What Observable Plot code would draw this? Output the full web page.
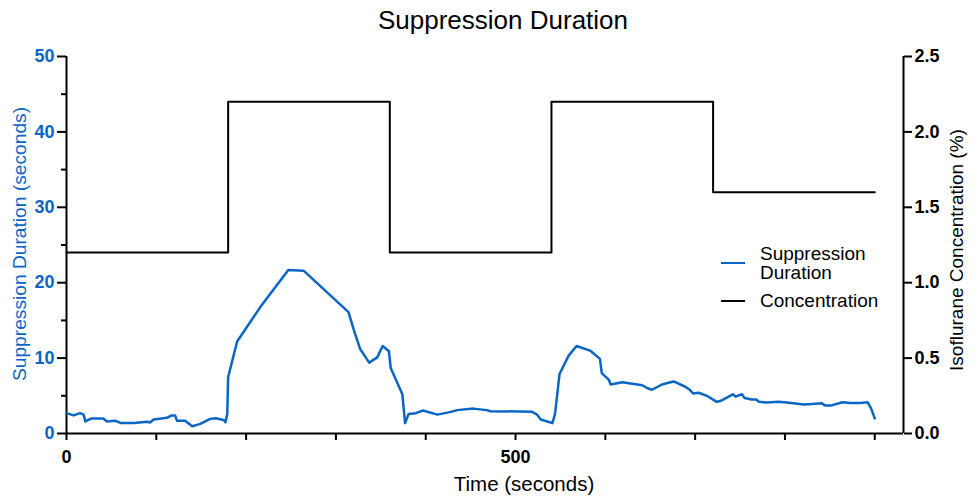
<!DOCTYPE html>
<html>
<head>
<meta charset="utf-8">
<script src="https://cdn.jsdelivr.net/npm/d3@7"></script>
<script src="https://cdn.jsdelivr.net/npm/@observablehq/plot@0.6"></script>
<style>
  html, body { margin: 0; padding: 0; background: #fff; }
  #wrap { position: relative; width: 979px; height: 498px; font-family: "Liberation Sans", Arial, Helvetica, sans-serif; }
  .ov { position: absolute; white-space: nowrap; color: #000; }
</style>
</head>
<body>
<div id="wrap"></div>
<script>
// ---- data ----
const title = "Suppression Duration";
const xLabel = "Time (seconds)";
const yLeftLabel = "Suppression Duration (seconds)";
const yRightLabel = "Isoflurane Concentration (%)";
const seriesNames = ["Suppression\nDuration", "Concentration"];

const time = [0,8,15,19,21,28,41,45,54,60,75,90,93,97,112,117,121,123,132,140,149,160,166,175,177,179,180,190,216,247,264,314,320,327,337,346,352,359,361,374,377,381,389,397,413,428,435,453,468,472,518,524,528,541,544,549,559,568,583,594,596,604,606,619,641,647,652,663,676,689,694,698,704,713,724,728,742,745,752,755,763,768,771,780,793,802,821,830,841,845,851,864,873,884,892,896,900];
const suppression = [2.7,2.4,2.7,2.5,1.6,2.0,2.0,1.6,1.7,1.4,1.4,1.55,1.46,1.86,2.08,2.4,2.4,1.7,1.7,0.97,1.28,1.94,2.03,1.8,1.5,2.6,7.5,12.2,16.8,21.7,21.6,16.1,13.7,11.2,9.4,10.1,11.6,10.9,8.7,5.2,1.37,2.6,2.7,3.05,2.5,2.87,3.1,3.3,3.1,2.96,2.9,2.5,1.86,1.37,2.6,7.9,10.3,11.6,11.0,9.9,8.0,7.1,6.5,6.8,6.4,6.0,5.8,6.5,6.9,6.2,5.8,5.3,5.4,5.0,4.2,4.3,5.2,4.9,5.2,4.7,4.5,4.5,4.2,4.1,4.2,4.1,3.85,3.9,4.0,3.7,3.7,4.15,4.06,4.06,4.15,3.3,2.0];

const concTime = [0,180,360,540,720,900];
const concValue = [1.2,2.2,1.2,2.2,1.6,1.6];

const xDomain = [0, 932];
const xTicks = [0,100,200,300,400,500,600,700,800,900];
const xTickLabels = [0,500];
const yLeftDomain = [0, 50];
const yLeftTicks = [0,10,20,30,40,50];
const yLeftMinor = [5,15,25,35,45];
const yRightDomain = [0, 2.5];
const yRightTicks = [0,0.5,1.0,1.5,2.0,2.5];

// ---- chart ----
const BLUE = "#0a66c4";
const ratio = yLeftDomain[1] / yRightDomain[1];
const supp = time.map((t, i) => ({t, v: suppression[i]}));
const conc = concTime.map((t, i) => ({t, c: concValue[i] * ratio}));

const tickFont = {fontSize: 18, fontWeight: "bold", fontFamily: "Liberation Sans, Arial, Helvetica, sans-serif"};

const chart = Plot.plot({
  width: 979,
  height: 498,
  marginLeft: 66,
  marginRight: 76,
  marginTop: 56,
  marginBottom: 65,
  style: {background: "transparent", overflow: "visible"},
  x: {domain: xDomain},
  y: {domain: yLeftDomain},
  marks: [
    Plot.axisX(xTicks, {tickSize: 7, strokeWidth: 2, stroke: "black", fill: "black", tickPadding: 10,
      tickFormat: d => xTickLabels.includes(d) ? String(d) : "", label: null, ...tickFont}),
    Plot.axisY(yLeftTicks, {anchor: "left", tickSize: 9, strokeWidth: 2, stroke: "black", fill: BLUE, tickPadding: 3,
      tickFormat: d => String(d), label: null, ...tickFont}),
    Plot.axisY(yLeftMinor, {anchor: "left", tickSize: 5, strokeWidth: 2, stroke: "black", text: null, label: null}),
    Plot.axisY(yRightTicks.map(v => v * ratio), {anchor: "right", tickSize: 8, strokeWidth: 2, stroke: "black", fill: "black", tickPadding: 3,
      tickFormat: d => (d / ratio).toFixed(1), label: null, ...tickFont}),
    Plot.ruleX([xDomain[0]], {strokeWidth: 2}),
    Plot.ruleX([xDomain[1]], {strokeWidth: 2}),
    Plot.ruleY([0], {strokeWidth: 2}),
    Plot.line(conc, {x: "t", y: "c", curve: "step-after", stroke: "black", strokeWidth: 2}),
    Plot.line(supp, {x: "t", y: "v", stroke: BLUE, strokeWidth: 2.5, strokeLinejoin: "round"})
  ]
});

const wrap = document.getElementById("wrap");
wrap.appendChild(chart);
chart.style.position = "absolute";
chart.style.left = "0px";
chart.style.top = "0px";

function ov(html, css) {
  const d = document.createElement("div");
  d.className = "ov";
  d.innerHTML = html;
  Object.assign(d.style, css);
  wrap.appendChild(d);
  return d;
}
// title
ov(title, {left: "503px", top: "20px", fontSize: "26px", transform: "translate(-50%,-50%)"});
// x label
ov(xLabel, {left: "524px", top: "484px", fontSize: "20.5px", transform: "translate(-50%,-50%)"});
// left y label
ov(yLeftLabel, {left: "20px", top: "244px", fontSize: "19.2px", color: BLUE, transform: "translate(-50%,-50%) rotate(-90deg)"});
// right y label
ov(yRightLabel, {left: "957px", top: "250px", fontSize: "19px", transform: "translate(-50%,-50%) rotate(-90deg)"});
// legend
const legendY = [263, 301];
const legendTop = [244, 291];
const legendColors = [BLUE, "black"];
seriesNames.forEach((name, i) => {
  const lines = name.split("\n");
  ov("", {left: "721px", top: (legendY[i] - 1) + "px", width: "24px", height: "2px", background: legendColors[i]});
  lines.forEach((ln, j) => {
    ov(ln, {left: "760px", top: (legendTop[i] + j * 19) + "px", fontSize: "19px", lineHeight: "19px"});
  });
});
</script>
</body>
</html>
